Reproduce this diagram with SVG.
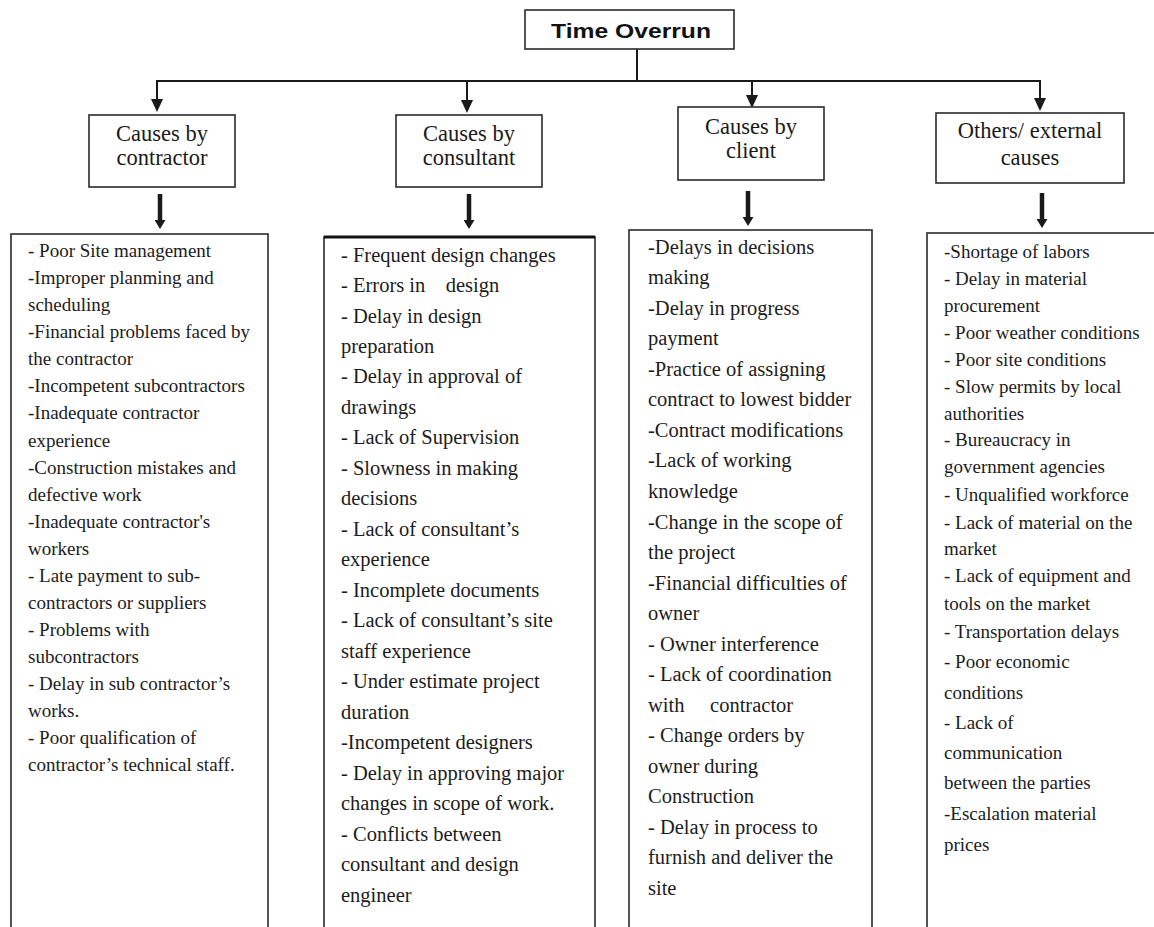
<svg xmlns="http://www.w3.org/2000/svg" width="1154" height="927" viewBox="0 0 1154 927">
<defs>
<marker id="ah" markerUnits="userSpaceOnUse" markerWidth="13" markerHeight="12" refX="0" refY="6" orient="auto" viewBox="0 0 13 12">
<path d="M0,0 L13,6 L0,12 z" fill="#1a1a1a"/>
</marker>
<marker id="ahT" markerUnits="userSpaceOnUse" markerWidth="9" markerHeight="11" refX="0" refY="5.5" orient="auto" viewBox="0 0 9 11">
<path d="M0,0 L9,5.5 L0,11 z" fill="#1a1a1a"/>
</marker>
</defs>
<style>
.box{fill:#fff;stroke:#2a2a2a;stroke-width:1.6}
.title{font-family:"Liberation Sans",Arial,sans-serif;font-weight:bold;font-size:21px;fill:#111}
.hdr{font-family:"Liberation Serif","Times New Roman",serif;font-size:22.5px;fill:#1a1a1a;text-anchor:middle}
.ls{font-family:"Liberation Serif","Times New Roman",serif;font-size:19px;fill:#1c1c1c}
.lw{font-family:"Liberation Serif","Times New Roman",serif;font-size:20.5px;fill:#1c1c1c}
.c{stroke:#1a1a1a;stroke-width:2;fill:none}
.ct{stroke:#1a1a1a;stroke-width:4.5;fill:none}
</style>
<rect width="1154" height="927" fill="#fff"/>

<g id="connectors">
<line class="c" x1="637" y1="49" x2="637" y2="81"/>
<line class="c" x1="156" y1="81" x2="1041" y2="81"/>
<line class="c" x1="157" y1="81" x2="157" y2="99" marker-end="url(#ah)"/>
<line class="c" x1="467" y1="81" x2="467" y2="100" marker-end="url(#ah)"/>
<line class="c" x1="752" y1="81" x2="752" y2="95" marker-end="url(#ah)"/>
<line class="c" x1="1040" y1="81" x2="1040" y2="98" marker-end="url(#ah)"/>
<line class="ct" x1="160" y1="194" x2="160" y2="220" marker-end="url(#ahT)"/>
<line class="ct" x1="469" y1="194" x2="469" y2="220" marker-end="url(#ahT)"/>
<line class="ct" x1="748" y1="191" x2="748" y2="217" marker-end="url(#ahT)"/>
<line class="ct" x1="1042" y1="193" x2="1042" y2="219" marker-end="url(#ahT)"/>
</g>

<g id="title">
<rect class="box" x="525" y="10" width="209" height="39"/>
<text class="title" x="631" y="38" text-anchor="middle" textLength="160" lengthAdjust="spacingAndGlyphs">Time Overrun</text>
</g>

<g id="hdr-contractor">
<rect class="box" x="89" y="115" width="146" height="72"/>
<text class="hdr" x="162" y="141">Causes by</text>
<text class="hdr" x="162" y="165">contractor</text>
</g>
<g id="hdr-consultant">
<rect class="box" x="396" y="115" width="146" height="72"/>
<text class="hdr" x="469" y="141">Causes by</text>
<text class="hdr" x="469" y="165">consultant</text>
</g>
<g id="hdr-client">
<rect class="box" x="678" y="107" width="146" height="73"/>
<text class="hdr" x="751" y="134">Causes by</text>
<text class="hdr" x="751" y="158">client</text>
</g>
<g id="hdr-others">
<rect class="box" x="936" y="113" width="188" height="70"/>
<text class="hdr" x="1030" y="138">Others/ external</text>
<text class="hdr" x="1030" y="165">causes</text>
</g>

<g id="list-contractor">
<rect class="box" x="11" y="234" width="257" height="710"/>
<text class="ls" x="28">
<tspan x="28" y="257">- Poor Site management</tspan>
<tspan x="28" y="284.1">-Improper planming and</tspan>
<tspan x="28" y="311.1">scheduling</tspan>
<tspan x="28" y="338.2">-Financial problems faced by</tspan>
<tspan x="28" y="365.3">the contractor</tspan>
<tspan x="28" y="392.4">-Incompetent subcontractors</tspan>
<tspan x="28" y="419.4">-Inadequate contractor</tspan>
<tspan x="28" y="446.5">experience</tspan>
<tspan x="28" y="473.6">-Construction mistakes and</tspan>
<tspan x="28" y="500.6">defective work</tspan>
<tspan x="28" y="527.7">-Inadequate contractor's</tspan>
<tspan x="28" y="554.8">workers</tspan>
<tspan x="28" y="581.8">- Late payment to sub-</tspan>
<tspan x="28" y="608.9">contractors or suppliers</tspan>
<tspan x="28" y="636">- Problems with</tspan>
<tspan x="28" y="663.1">subcontractors</tspan>
<tspan x="28" y="690.1">- Delay in sub contractor’s</tspan>
<tspan x="28" y="717.2">works.</tspan>
<tspan x="28" y="744.3">- Poor qualification of</tspan>
<tspan x="28" y="771.3">contractor’s technical staff.</tspan>
</text>
</g>

<g id="list-consultant">
<rect class="box" x="324" y="237" width="271" height="707"/>
<line x1="324" y1="237" x2="595" y2="237" stroke="#111" stroke-width="3"/>
<text class="lw">
<tspan x="341" y="261.5">- Frequent design changes</tspan>
<tspan x="341" y="292">- Errors in&#160;&#160;&#160; design</tspan>
<tspan x="341" y="322.5">- Delay in design</tspan>
<tspan x="341" y="352.9">preparation</tspan>
<tspan x="341" y="383.4">- Delay in approval of</tspan>
<tspan x="341" y="413.9">drawings</tspan>
<tspan x="341" y="444.4">- Lack of Supervision</tspan>
<tspan x="341" y="474.9">- Slowness in making</tspan>
<tspan x="341" y="505.3">decisions</tspan>
<tspan x="341" y="535.8">- Lack of consultant’s</tspan>
<tspan x="341" y="566.3">experience</tspan>
<tspan x="341" y="596.8">- Incomplete documents</tspan>
<tspan x="341" y="627.3">- Lack of consultant’s site</tspan>
<tspan x="341" y="657.7">staff experience</tspan>
<tspan x="341" y="688.2">- Under estimate project</tspan>
<tspan x="341" y="718.7">duration</tspan>
<tspan x="341" y="749.2">-Incompetent designers</tspan>
<tspan x="341" y="779.7">- Delay in approving major</tspan>
<tspan x="341" y="810.1">changes in scope of work.</tspan>
<tspan x="341" y="840.6">- Conflicts between</tspan>
<tspan x="341" y="871.1">consultant and design</tspan>
<tspan x="341" y="901.6">engineer</tspan>
</text>
</g>

<g id="list-client">
<rect class="box" x="629" y="230" width="243" height="714"/>
<text class="lw">
<tspan x="648" y="253.8">-Delays in decisions</tspan>
<tspan x="648" y="284.3">making</tspan>
<tspan x="648" y="314.8">-Delay in progress</tspan>
<tspan x="648" y="345.4">payment</tspan>
<tspan x="648" y="375.9">-Practice of assigning</tspan>
<tspan x="648" y="406.4">contract to lowest bidder</tspan>
<tspan x="648" y="436.9">-Contract modifications</tspan>
<tspan x="648" y="467.4">-Lack of working</tspan>
<tspan x="648" y="498">knowledge</tspan>
<tspan x="648" y="528.5">-Change in the scope of</tspan>
<tspan x="648" y="559">the project</tspan>
<tspan x="648" y="589.5">-Financial difficulties of</tspan>
<tspan x="648" y="620">owner</tspan>
<tspan x="648" y="650.6">- Owner interference</tspan>
<tspan x="648" y="681.1">- Lack of coordination</tspan>
<tspan x="648" y="711.6">with&#160;&#160;&#160;&#160; contractor</tspan>
<tspan x="648" y="742.1">- Change orders by</tspan>
<tspan x="648" y="772.6">owner during</tspan>
<tspan x="648" y="803.2">Construction</tspan>
<tspan x="648" y="833.7">- Delay in process to</tspan>
<tspan x="648" y="864.2">furnish and deliver the</tspan>
<tspan x="648" y="894.7">site</tspan>
</text>
</g>

<g id="list-others">
<rect class="box" x="927" y="233" width="250" height="711"/>
<text class="ls">
<tspan x="944" y="257.7">-Shortage of labors</tspan>
<tspan x="944" y="285.3">- Delay in material</tspan>
<tspan x="944" y="312">procurement</tspan>
<tspan x="944" y="338.7">- Poor weather conditions</tspan>
<tspan x="944" y="366">- Poor site conditions</tspan>
<tspan x="944" y="392.7">- Slow permits by local</tspan>
<tspan x="944" y="420">authorities</tspan>
<tspan x="944" y="446">- Bureaucracy in</tspan>
<tspan x="944" y="473.3">government agencies</tspan>
<tspan x="944" y="501">- Unqualified workforce</tspan>
<tspan x="944" y="528.7">- Lack of material on the</tspan>
<tspan x="944" y="555.3">market</tspan>
<tspan x="944" y="582.4">- Lack of equipment and</tspan>
<tspan x="944" y="610">tools on the market</tspan>
<tspan x="944" y="637.7">- Transportation delays</tspan>
<tspan x="944" y="667.7">- Poor economic</tspan>
<tspan x="944" y="698.7">conditions</tspan>
<tspan x="944" y="728.7">- Lack of</tspan>
<tspan x="944" y="759.3">communication</tspan>
<tspan x="944" y="789.3">between the parties</tspan>
<tspan x="944" y="820">-Escalation material</tspan>
<tspan x="944" y="851">prices</tspan>
</text>
</g>
</svg>
